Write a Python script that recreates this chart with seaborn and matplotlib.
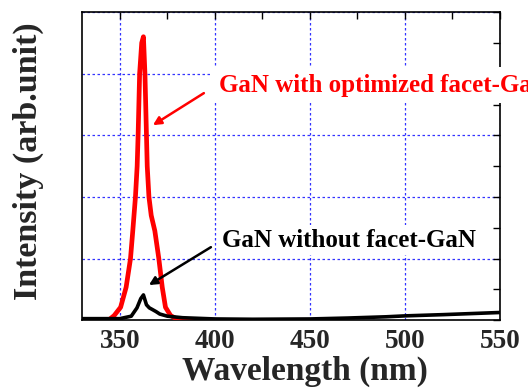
import numpy as np
import pandas as pd
import matplotlib
matplotlib.use("Agg")
import matplotlib.pyplot as plt
import seaborn as sns
from matplotlib.ticker import MultipleLocator

# Data
wl_red = [330, 344, 347, 350.4, 353.3, 355.6, 356.8, 358.2, 359.1, 359.6, 360.4, 361.5, 362.4, 363.2, 364.0, 364.4, 365.3, 366.5, 368.4, 370.5, 372.3, 374, 376.7, 381, 400]
int_red = [0, 0, 0.15, 0.42, 1.07, 2.0, 2.9, 4.0, 5.0, 6.0, 8.0, 9.0, 9.2, 8.0, 6.0, 5.0, 4.0, 3.4, 2.9, 2.0, 1.07, 0.42, 0.15, 0, 0]
wl_black = [330, 350, 356, 359, 361, 362.4, 364, 365.5, 367, 369, 371, 375, 383, 400, 420, 450, 470, 490, 500, 520, 550]
int_black = [0.05, 0.05, 0.13, 0.4, 0.7, 0.82, 0.5, 0.4, 0.35, 0.28, 0.2, 0.13, 0.08, 0.04, 0.03, 0.04, 0.07, 0.11, 0.14, 0.18, 0.25]
label_red = "GaN with optimized facet-GaN"
label_black = "GaN without facet-GaN"

df_red = pd.DataFrame({"wl": wl_red, "I": int_red})
df_black = pd.DataFrame({"wl": wl_black, "I": int_black})

sns.set_style("white")
plt.rcParams["font.family"] = ["Liberation Serif", "DejaVu Serif"]
plt.rcParams["font.weight"] = "bold"

fig = plt.figure(figsize=(5.28, 3.9), dpi=100)
ax = fig.add_axes([0.155, 0.179, 0.792, 0.79])

sns.lineplot(data=df_red, x="wl", y="I", color="#ff0000", lw=3.4, ax=ax, zorder=3)
sns.lineplot(data=df_black, x="wl", y="I", color="black", lw=2.6, ax=ax, zorder=4)

ax.set_xlim(330, 550)
ax.set_ylim(0, 10)
ax.xaxis.set_major_locator(MultipleLocator(50))
ax.xaxis.set_minor_locator(MultipleLocator(25))
ax.yaxis.set_major_locator(MultipleLocator(2))
ax.yaxis.set_minor_locator(MultipleLocator(1))
ax.set_yticklabels([])
ax.tick_params(which="both", direction="in", top=True, right=True, color="black")
ax.tick_params(which="major", length=5, width=1)
ax.tick_params(which="minor", length=5, width=1)
ax.tick_params(axis="x", labelsize=19.5, pad=6)
for lab in ax.get_xticklabels():
    lab.set_fontweight("bold")
for s in ax.spines.values():
    s.set_color("black")
    s.set_linewidth(1.2)
ax.grid(True, which="major", color="#3333ff", linestyle=(0, (2, 2)), lw=0.9)

ax.set_xlabel("Wavelength (nm)", fontsize=24, fontweight="bold")
ax.xaxis.set_label_coords(0.533, -0.114)
ax.set_ylabel("Intensity (arb.unit)", fontsize=24.5, fontweight="bold")
ax.yaxis.set_label_coords(-0.091, 0.515)

# red label + arrow
ax.text(402, 7.63, label_red, fontsize=18, fontweight="bold", color="#ff0000",
        ha="left", va="center", zorder=10, clip_on=False,
        bbox=dict(boxstyle="square,pad=0.25", fc="white", ec="none"))
ax.annotate("", xy=(367.4, 6.33), xytext=(394.2, 7.37), zorder=11,
            arrowprops=dict(arrowstyle="-|>", color="#ff0000", lw=1.8, mutation_scale=12,
                            shrinkA=0, shrinkB=0))
# black label + arrow
ax.text(404, 2.6, label_black, fontsize=18, fontweight="bold", color="black",
        ha="left", va="center", zorder=10, clip_on=False,
        bbox=dict(boxstyle="square,pad=0.15", fc="white", ec="none"))
ax.annotate("", xy=(365.3, 1.14), xytext=(397.9, 2.37), zorder=11,
            arrowprops=dict(arrowstyle="-|>", color="black", lw=1.8, mutation_scale=12,
                            shrinkA=0, shrinkB=0))

fig.savefig("out.png", dpi=100)
